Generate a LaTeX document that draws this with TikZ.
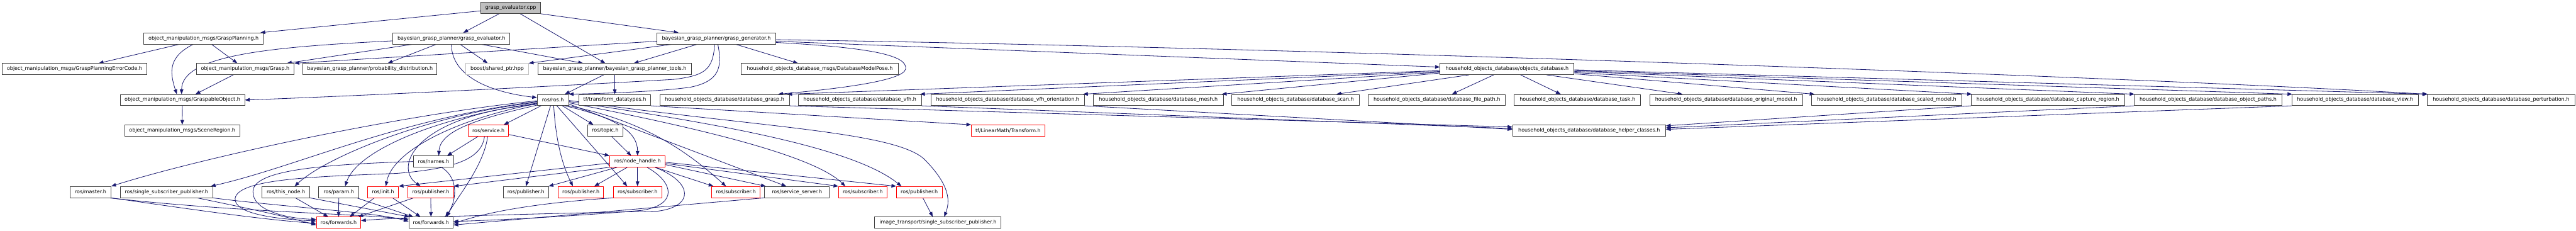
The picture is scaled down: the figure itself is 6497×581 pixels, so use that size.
\documentclass[tikz,border=0pt]{standalone}
\usepackage{fontspec}
\setmainfont{DejaVu Sans}
\usetikzlibrary{arrows.meta,calc}
\definecolor{edgec}{HTML}{191970}
\definecolor{boxc}{HTML}{404040}
\pgfdeclarelayer{back}
\pgfdeclarelayer{bg}
\pgfsetlayers{back,bg,main}
\newcommand\dxfont{\fontsize{12.7}{15}\selectfont}
\begin{document}
\begin{tikzpicture}[x=1pt,y=-1pt,
 nd/.style={draw=boxc, line width=1.3pt, fill=white, minimum height=28pt, inner sep=0pt, font=\dxfont, text=black},
 rednd/.style={nd, draw=red},
 grynd/.style={nd, draw=black!25},
 rootnd/.style={nd, fill=black!25},
 e/.style={draw=edgec, line width=1.3pt, -{Triangle[length=12pt,width=9pt]}}
]
\useasboundingbox (0,0) rectangle (6497,581);
\begin{pgfonlayer}{back}
\fill[white] (0,0) rectangle (6497,581);
\end{pgfonlayer}
% row 0
\node[rootnd,minimum width=150pt] (root) at (1288,20) {grasp\_evaluator.cpp};
% row 1
\node[nd,minimum width=301pt] (gp) at (513.5,97) {object\_manipulation\_msgs/GraspPlanning.h};
\node[nd,minimum width=295pt] (ge) at (1138.5,97) {bayesian\_grasp\_planner/grasp\_evaluator.h};
\node[nd,minimum width=299pt] (gg) at (1806.5,97) {bayesian\_grasp\_planner/grasp\_generator.h};
% row 2
\node[nd,minimum width=366pt] (gpec) at (188,174) {object\_manipulation\_msgs/GraspPlanningErrorCode.h};
\node[nd,minimum width=247pt] (grasp) at (618.5,174) {object\_manipulation\_msgs/Grasp.h};
\node[nd,minimum width=338pt] (pd) at (933,174) {bayesian\_grasp\_planner/probability\_distribution.h};
\node[grynd,minimum width=158pt] (sp) at (1254,174) {boost/shared\_ptr.hpp};
\node[nd,minimum width=387pt] (tools) at (1550.5,174) {bayesian\_grasp\_planner/bayesian\_grasp\_planner\_tools.h};
\node[nd,minimum width=397pt] (dmp) at (2067.5,174) {household\_objects\_database\_msgs/DatabaseModelPose.h};
\node[nd,minimum width=338pt] (odb) at (3801,174) {household\_objects\_database/objects\_database.h};
% row 3
\node[nd,minimum width=314pt] (go) at (460,252) {object\_manipulation\_msgs/GraspableObject.h};
\node[nd,minimum width=79pt] (ros) at (1394.5,252) {ros/ros.h};
\node[nd,minimum width=181pt] (tfd) at (1550.5,252) {tf/transform\_datatypes.h};
\node[nd,minimum width=327pt] (dgrasp) at (1827.5,252) {household\_objects\_database/database\_grasp.h};
\node[nd,minimum width=311pt] (dvfh) at (2168.5,252) {household\_objects\_database/database\_vfh.h};
\node[nd,minimum width=387pt] (dvfho) at (2541.5,252) {household\_objects\_database/database\_vfh\_orientation.h};
\node[nd,minimum width=327pt] (dmesh) at (2921.5,252) {household\_objects\_database/database\_mesh.h};
\node[nd,minimum width=321pt] (dscan) at (3267.5,252) {household\_objects\_database/database\_scan.h};
\node[nd,minimum width=346pt] (dfp) at (3624,252) {household\_objects\_database/database\_file\_path.h};
\node[nd,minimum width=319pt] (dtask) at (3978.5,252) {household\_objects\_database/database\_task.h};
\node[nd,minimum width=385pt] (dorig) at (4353.5,252) {household\_objects\_database/database\_original\_model.h};
\node[nd,minimum width=379pt] (dscaled) at (4758.5,252) {household\_objects\_database/database\_scaled\_model.h};
\node[nd,minimum width=386pt] (dcap) at (5165,252) {household\_objects\_database/database\_capture\_region.h};
\node[nd,minimum width=374pt] (dop) at (5569,252) {household\_objects\_database/database\_object\_paths.h};
\node[nd,minimum width=319pt] (dview) at (5939.5,252) {household\_objects\_database/database\_view.h};
\node[nd,minimum width=372pt] (dpert) at (6308,252) {household\_objects\_database/database\_perturbation.h};
% row 4
\node[nd,minimum width=291pt] (scene) at (459.5,329) {object\_manipulation\_msgs/SceneRegion.h};
\node[rednd,minimum width=102pt] (service) at (1232,329) {ros/service.h};
\node[nd,minimum width=89pt] (topic) at (1526.5,329) {ros/topic.h};
\node[rednd,minimum width=185pt] (tflm) at (2542.5,329) {tf/LinearMath/Transform.h};
\node[nd,minimum width=386pt] (helper) at (4008,329) {household\_objects\_database/database\_helper\_classes.h};
% row 5
\node[nd,minimum width=103pt] (names) at (1093.5,407) {ros/names.h};
\node[rednd,minimum width=140pt] (nh) at (1608,407) {ros/node\_handle.h};
% row 6
\node[nd,minimum width=103pt] (master) at (228.5,484) {ros/master.h};
\node[nd,minimum width=232pt] (ssp) at (420,484) {ros/single\_subscriber\_publisher.h};
\node[nd,minimum width=120pt] (thisnode) at (721,484) {ros/this\_node.h};
\node[nd,minimum width=101pt] (param) at (854.5,484) {ros/param.h};
\node[rednd,minimum width=78pt] (init) at (966,484) {ros/init.h};
\node[rednd,minimum width=115pt] (pub1) at (1086.5,484) {ros/publisher.h};
\node[nd,minimum width=115pt] (pub2) at (1326.5,484) {ros/publisher.h};
\node[rednd,minimum width=114pt] (pub3) at (1465,484) {ros/publisher.h};
\node[rednd,minimum width=122pt] (sub1) at (1608,484) {ros/subscriber.h};
\node[rednd,minimum width=122pt] (sub2) at (1856,484) {ros/subscriber.h};
\node[nd,minimum width=164pt] (ss) at (2010,484) {ros/service\_server.h};
\node[rednd,minimum width=122pt] (sub3) at (2176,484) {ros/subscriber.h};
\node[rednd,minimum width=115pt] (pub4) at (2318.5,484) {ros/publisher.h};
% row 7
\node[rednd,minimum width=112pt] (fwd1) at (854,561) {ros/forwards.h};
\node[nd,minimum width=112pt] (fwd2) at (1087,561) {ros/forwards.h};
\node[nd,minimum width=319pt] (it) at (2365.5,561) {image\_transport/single\_subscriber\_publisher.h};

\begin{pgfonlayer}{bg}
% root
\draw[e] (root) -- ($(gp.north east)+(-8,0)$);
\draw[e] ($(root.south)+(-29,0)$) -- ($(ge.north)+(30,0)$);
\draw[e] ($(root.south)+(24,0)$) -- ($(tools.north)+(-24,0)$);
\draw[e] (root.south east) -- ($(gg.north)+(-95,0)$);
% gp
\draw[e] ($(gp.south)+(-61,0)$) -- ($(gpec.north)+(61,0)$);
\draw[e] ($(gp.south)+(-26,0)$) .. controls +(-60,30) and +(-20,-60) .. ($(go.north)+(-14,0)$);
\draw[e] ($(gp.south)+(20,0)$) -- ($(grasp.north)+(-20,0)$);
% ge
\draw[e] ($(ge.south)+(-98,0)$) -- ($(grasp.north east)+(-19,0)$);
\draw[e] ($(ge.west)+(0,6)$) .. controls +(-300,15) and +(0,-100) .. ($(go.north)+(-2,0)$);
\draw[e] ($(ge.south)+(-38,0)$) -- ($(pd.north)+(45,0)$);
\draw[e] ($(ge.south)+(22,0)$) -- ($(sp.north)+(-24,0)$);
\draw[e] ($(ge.south)+(75,0)$) -- ($(tools.north)+(-80,0)$);
\draw[e] (ge.south) .. controls +(0,80) and +(-120,-14) .. ($(ros.west)+(0,-6)$);
% gg
\draw[e] ($(gg.west)+(0,7)$) -- (grasp.north east);
\draw[e] ($(gg.south west)+(39,0)$) -- (sp.north east);
\draw[e] ($(gg.south)+(-48,0)$) -- ($(tools.north)+(48,0)$);
\draw[e] ($(gg.south)+(-4,0)$) .. controls (1798,175) and (1780,190) .. (1700,200) .. controls (1450,215) and (900,242) .. (go.east);
\draw[e] ($(gg.south)+(4,0)$) .. controls (1822,170) and (1815,205) .. (1740,220) .. controls (1650,232) and (1500,236) .. (ros.north east);
\draw[e] ($(gg.south)+(49,0)$) -- ($(dmp.north)+(-55,0)$);
\draw[e] ($(gg.east)+(0,10)$) .. controls (2200,120) and (2290,140) .. (2284,174) .. controls (2278,205) and (2100,225) .. ($(dgrasp.north east)+(-29,0)$);
\draw[e] ($(gg.east)+(0,7)$) -- ($(odb.west)+(0,-5)$);
\draw[e] ($(gg.east)+(0,3)$) .. controls (3300,120) and (5400,195) .. (dpert.north west);
% objects_database
\draw[e] ($(odb.west)+(0,4)$) -- ($(dgrasp.north east)+(-6,0)$);
\draw[e] ($(odb.west)+(0,6)$) -- ($(dvfh.north east)+(-4,0)$);
\draw[e] ($(odb.west)+(0,8)$) -- ($(dvfho.north east)+(-4,0)$);
\draw[e] ($(odb.west)+(0,10)$) -- ($(dmesh.north east)+(-4,0)$);
\draw[e] ($(odb.south west)+(74,0)$) -- ($(dscan.north east)+(-58,0)$);
\draw[e] ($(odb.south west)+(136,0)$) -- ($(dfp.north)+(38,0)$);
\draw[e] ($(odb.south)+(34,0)$) -- ($(dtask.north west)+(118,0)$);
\draw[e] ($(odb.south east)+(-70,0)$) -- ($(dorig.north)+(-110,0)$);
\draw[e] ($(odb.east)+(0,12)$) -- ($(dscaled.north west)+(8,0)$);
\draw[e] ($(odb.east)+(0,9)$) -- ($(dcap.north west)+(2,0)$);
\draw[e] ($(odb.east)+(0,6)$) -- ($(dop.north west)+(2,0)$);
\draw[e] ($(odb.east)+(0,4)$) -- ($(dview.north west)+(2,0)$);
\draw[e] ($(odb.east)+(0,2)$) -- ($(dpert.north west)+(2,0)$);
% helper classes
\draw[e] (dgrasp.south east) -- ($(helper.west)+(0,-9)$);
\draw[e] (dvfh.south east) -- ($(helper.west)+(0,-5)$);
\draw[e] (dvfho.south east) -- ($(helper.west)+(0,-3)$);
\draw[e] (dcap.south west) -- ($(helper.east)+(0,-12)$);
\draw[e] (dop.south west) -- ($(helper.east)+(0,-7)$);
\draw[e] (dview.south west) -- ($(helper.east)+(0,-3)$);
% tf
\draw[e] (tfd.south east) -- (tflm.north west);
% tools
\draw[e] ($(tools.south)+(-28,0)$) -- ($(ros.north east)+(-10,0)$);
\draw[e] (tools.south) -- (tfd.north);
% grasp / graspable
\draw[e] ($(grasp.south)+(-30,0)$) -- ($(go.north)+(33,0)$);
\draw[e] (go) -- (scene);
% ros.h fan, right / down
\draw[e] ($(ros.south)+(-30,0)$) -- ($(service.north east)+(-13,0)$);
\draw[e] ($(ros.south)+(24,0)$) -- ($(topic.north)+(-30,0)$);
\draw[e] ($(ros.south east)+(-10,0)$) .. controls +(130,30) and +(0,-60) .. (nh.north);
\draw[e] ($(ros.south)+(-6,0)$) -- (pub2.north);
\draw[e] ($(ros.south)+(2,0)$) .. controls +(5,80) and +(-30,-60) .. ($(pub3.north)+(-20,0)$);
\draw[e] ($(ros.south)+(10,0)$) -- ($(sub1.north)+(-26,0)$);
\draw[e] (ros.south east) .. controls +(200,40) and +(-90,-80) .. ($(sub2.north)+(-25,0)$);
\draw[e] ($(ros.east)+(0,10)$) -- ($(ss.north)+(-27,0)$);
\draw[e] ($(ros.east)+(0,7)$) .. controls (1750,320) and (2050,390) .. ($(sub3.north)+(-44,0)$);
\draw[e] ($(ros.east)+(0,4)$) .. controls (1800,310) and (2150,370) .. ($(pub4.north)+(-45,0)$);
\draw[e] ($(ros.east)+(0,1)$) .. controls (1900,320) and (2250,330) .. (2330,400) .. controls (2400,470) and (2395,510) .. ($(it.north)+(16,0)$);
% ros.h fan, left
\draw[e] ($(ros.west)+(0,2)$) .. controls (1000,290) and (500,400) .. (master.north east);
\draw[e] ($(ros.west)+(0,4)$) .. controls (1000,300) and (750,420) .. ($(ssp.north east)+(-5,0)$);
\draw[e] ($(ros.west)+(0,6)$) .. controls (1100,285) and (830,390) .. ($(thisnode.north)+(22,0)$);
\draw[e] ($(ros.west)+(0,8)$) .. controls (1100,295) and (900,380) .. ($(param.north)+(16,0)$);
\draw[e] ($(ros.west)+(0,9)$) .. controls (1150,300) and (990,380) .. ($(init.north)+(7,0)$);
\draw[e] ($(ros.west)+(0,11)$) .. controls (1050,290) and (990,420) .. ($(pub1.north)+(-26,0)$);
\draw[e] ($(ros.west)+(0,13)$) .. controls (1200,300) and (1110,330) .. ($(names.north)+(13,0)$);
% service
\draw[e] ($(service.south)+(-26,0)$) -- ($(names.north east)+(-18,0)$);
\draw[e] ($(service.south)+(-2,0)$) .. controls (1220,420) and (1150,500) .. ($(fwd2.north)+(40,0)$);
\draw[e] ($(service.east)+(0,10)$) -- (nh.north west);
\draw[e] ($(service.south)+(-10,0)$) .. controls (1215,400) and (1150,425) .. (1000,437) .. controls (800,445) and (600,450) .. (593,500) .. controls (590,540) and (700,552) .. ($(fwd1.west)+(0,-4)$);
% names
\draw[e] (names.west) .. controls (800,415) and (640,430) .. (638,482) .. controls (636,530) and (720,550) .. ($(fwd1.west)+(0,-8)$);
\draw[e] ($(names.south)+(20,0)$) .. controls (1160,450) and (1150,510) .. ($(fwd2.north)+(36,0)$);
% topic
\draw[e] ($(topic.south)+(16,0)$) -- ($(nh.north)+(-16,0)$);
% node_handle
\draw[e] ($(nh.west)+(0,4)$) -- (init.north east);
\draw[e] (nh.south west) -- (pub1.north east);
\draw[e] ($(nh.south west)+(19,0)$) -- ($(pub2.north east)+(-1,0)$);
\draw[e] ($(nh.south)+(-26,0)$) -- ($(pub3.north)+(34,0)$);
\draw[e] (nh) -- (sub1);
\draw[e] ($(nh.south east)+(-26,0)$) -- ($(sub2.north west)+(5,0)$);
\draw[e] ($(nh.east)+(0,8)$) -- ($(ss.north west)+(4,0)$);
\draw[e] ($(nh.east)+(0,5)$) -- (sub3.north west);
\draw[e] ($(nh.east)+(0,2)$) -- (pub4.north west);
\draw[e] ($(nh.south)+(24,0)$) .. controls (1700,460) and (1710,515) .. (1620,530) .. controls (1450,545) and (1250,555) .. ($(fwd2.east)+(0,-3)$);
\draw[e] ($(nh.south)+(44,0)$) .. controls (1750,460) and (1750,520) .. (1660,532) .. controls (1300,540) and (1000,548) .. ($(fwd1.east)+(0,-5)$);
% row 6 to forwards
\draw[e] (sub1.south west) .. controls (1300,515) and (1200,545) .. ($(fwd2.east)+(0,2)$);
\draw[e] (ss.south west) -- ($(fwd2.east)+(0,6)$);
\draw[e] (master.south east) .. controls (500,530) and (650,552) .. ($(fwd1.west)+(0,2)$);
\draw[e] ($(master.south east)+(-6,0)$) .. controls (600,535) and (900,538) .. ($(fwd2.west)+(0,-8)$);
\draw[e] ($(ssp.south)+(77,0)$) .. controls (600,520) and (700,540) .. ($(fwd1.west)+(0,6)$);
\draw[e] (ssp.south east) .. controls (700,520) and (950,535) .. ($(fwd2.west)+(0,-3)$);
\draw[e] ($(thisnode.south)+(24,0)$) -- ($(fwd1.north)+(-26,0)$);
\draw[e] (thisnode.south east) -- ($(fwd2.north west)+(2,0)$);
\draw[e] (param.south) -- (fwd1.north);
\draw[e] ($(param.south east)+(-6,0)$) -- ($(fwd2.north west)+(12,0)$);
\draw[e] ($(init.south)+(-22,0)$) -- ($(fwd1.north)+(28,0)$);
\draw[e] ($(init.south)+(24,0)$) -- ($(fwd2.north west)+(30,0)$);
\draw[e] ($(pub1.south west)+(15,0)$) -- ($(fwd1.north east)+(-7,0)$);
\draw[e] (pub1.south) -- (fwd2.north);
\draw[e] ($(pub4.south)+(9,0)$) -- ($(it.north)+(-13,0)$);
\end{pgfonlayer}
\end{tikzpicture}
\end{document}
